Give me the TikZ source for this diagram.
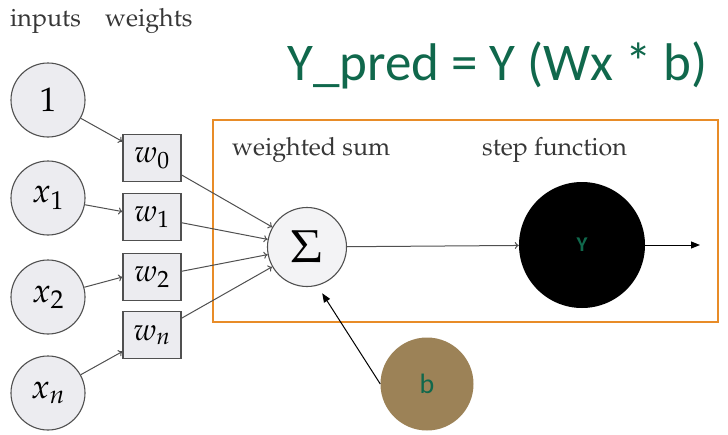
\documentclass[tikz,border=0pt]{standalone}
\usepackage{mathpazo}
\usepackage[no-math]{fontspec}
\newfontfamily\carlito{Carlito}
\usetikzlibrary{arrows.meta}
\definecolor{ingray}{RGB}{236,236,240}
\definecolor{sigfill}{RGB}{243,243,245}
\definecolor{edgegray}{RGB}{80,80,80}
\definecolor{txtgray}{RGB}{55,55,55}
\definecolor{boxorange}{RGB}{232,140,40}
\definecolor{titlegreen}{RGB}{16,104,76}
\definecolor{bbrown}{RGB}{156,130,87}
\newcommand\palfont{\usefont{OT1}{ppl}{m}{n}}
\begin{document}
\begin{tikzpicture}[x=1pt,y=-1pt,
  innode/.style={circle,draw=edgegray,line width=1.1pt,fill=ingray,minimum size=74pt,inner sep=0pt,font=\fontsize{34}{34}\selectfont},
  wbox/.style={rectangle,draw=edgegray,line width=1.1pt,fill=ingray,minimum width=58pt,minimum height=47pt,inner sep=0pt,font=\fontsize{31}{31}\selectfont},
  grayarrow/.style={draw=edgegray,line width=1pt,-{To[length=4pt,width=7pt]}},
  toplabel/.style={text=txtgray,font=\palfont\fontsize{25}{25}\selectfont,anchor=base west,inner sep=0pt}]
\useasboundingbox (0,0) rectangle (728,434);

% title
\node[text=titlegreen,font=\carlito\fontsize{53}{53}\selectfont,anchor=base west,inner sep=0pt] (title) at (287,80) {Y\_pred = Y (Wx * b)};

% frame
\node[draw=boxorange,line width=1.3pt,minimum width=505pt,minimum height=202pt,inner sep=0pt] (frame) at (465.5,221) {};

% labels
\node[toplabel] (linputs) at (10,26) {inputs};
\node[toplabel] (lweights) at (105,26) {weights};
\node[toplabel] (lsum) at (232,155) {weighted sum};
\node[toplabel] (lstep) at (482,155) {step function};

% inputs
\node[innode] (one) at (48,100) {$1$};
\node[innode] (x1) at (48,198) {$x_1$};
\node[innode] (x2) at (48,297) {$x_2$};
\node[innode] (xn) at (48,393) {$x_n$};

% weights
\node[wbox] (w0) at (152,158) {$w_0$};
\node[wbox] (w1) at (152,217) {$w_1$};
\node[wbox] (w2) at (152,277) {$w_2$};
\node[wbox] (wn) at (152,335) {$w_n$};

% sum
\node[circle,draw=edgegray,line width=1.1pt,fill=sigfill,minimum size=79pt,inner sep=0pt,font=\fontsize{46}{46}\selectfont] (sigma) at (307,247) {$\Sigma$};

% step node
\node[circle,fill=black,minimum size=126pt,inner sep=0pt,text=titlegreen,font=\carlito\bfseries\fontsize{21}{21}\selectfont] (Y) at (582,245) {Y};
\coordinate (out) at (700,245);

% bias
\node[circle,fill=bbrown,minimum size=93pt,inner sep=0pt,text=titlegreen,font=\carlito\fontsize{28}{28}\selectfont] (b) at (427,384) {b};

% connectors
\draw[grayarrow] (one) -- (w0);
\draw[grayarrow] (x1) -- (w1);
\draw[grayarrow] (x2) -- (w2.west);
\draw[grayarrow] (xn) -- (wn);
\draw[grayarrow] (w0) -- (sigma);
\draw[grayarrow] (w1) -- (sigma);
\draw[grayarrow] (w2) -- (sigma);
\draw[grayarrow] (wn) -- (sigma);
\draw[grayarrow] (sigma) -- (Y);
\draw[line width=1pt,-{Triangle[length=9pt,width=7pt]}] (Y) -- (out);
\draw[line width=1pt,-{Triangle[length=9pt,width=7pt]},shorten >=9pt] (b.west) -- (sigma.-75);
\end{tikzpicture}
\end{document}
